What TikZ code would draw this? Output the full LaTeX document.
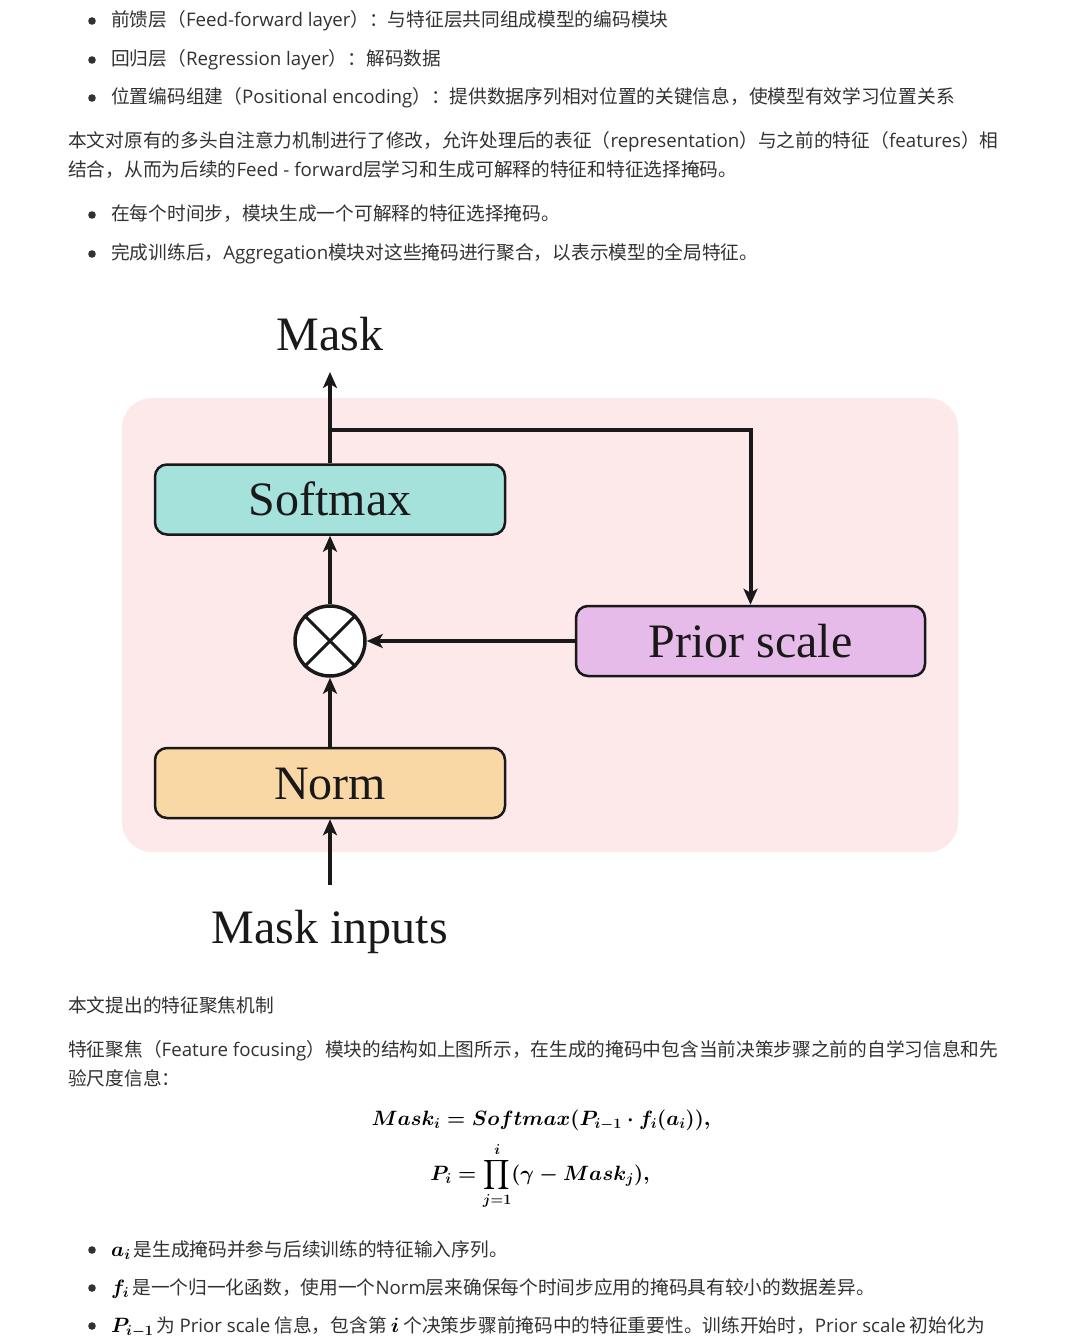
\documentclass[tikz,border=0pt]{standalone}
\usepackage{amsmath}
\usepackage[no-math]{fontspec}
\setmainfont{Noto Sans CJK SC}
\newfontfamily\lat{Open Sans}
\newfontfamily\serifd{Liberation Serif}
\usetikzlibrary{arrows.meta}
\definecolor{txtgray}{RGB}{50,50,50}
\definecolor{pinkbg}{RGB}{253,233,234}
\definecolor{tealbox}{RGB}{166,226,220}
\definecolor{lilacbox}{RGB}{230,187,233}
\definecolor{peachbox}{RGB}{250,216,166}
\definecolor{edge}{RGB}{25,25,25}
\newsavebox\eqAbox
\newsavebox\eqBbox
\newsavebox\mathAbox
\newsavebox\mathFbox
\newsavebox\mathPbox
\newsavebox\mathIbox
\tikzset{
  body/.style={anchor=base west, inner sep=0pt, text=txtgray, font=\fontsize{18.7}{22}\selectfont},
  dot/.style={fill=txtgray},
  blk/.style={draw=edge, line width=2.5pt, rounded corners=12pt, minimum width=350pt, minimum height=70pt,
    font=\serifd\fontsize{48}{50}\selectfont, text=edge, text height=32pt, text depth=0pt, inner sep=0pt},
  lbl/.style={anchor=base, inner sep=0pt, text=edge, font=\serifd\fontsize{48}{50}\selectfont},
  conn/.style={line width=4pt, draw=edge, -{Stealth[length=16pt,width=14pt,inset=4pt]}},
  eqn/.style={inner sep=0pt, text=edge}
}
\begin{document}
\sbox\eqAbox{\fontsize{20.2}{24}\selectfont\mathversion{bold}$Mask_i = Softmax(P_{i-1}\cdot f_i(a_i)),$}
\sbox\eqBbox{\fontsize{20.2}{24}\selectfont\mathversion{bold}$\displaystyle P_i = \prod_{j=1}^{i}(\gamma - Mask_j),$}
\sbox\mathAbox{\fontsize{22.5}{26}\selectfont\mathversion{bold}$a_i$}
\sbox\mathFbox{\fontsize{22.5}{26}\selectfont\mathversion{bold}$f_i$}
\sbox\mathPbox{\fontsize{22.5}{26}\selectfont\mathversion{bold}$P_{i-1}$}
\sbox\mathIbox{\fontsize{20}{24}\selectfont\mathversion{bold}$i$}
\begin{tikzpicture}[x=1pt,y=-1pt]
\useasboundingbox[fill=white] (0,0) rectangle (1080,1337);

% top bullets
\fill[dot] (92,21) circle (3.8);
\node[body] (t1) at (111,27) {前馈层（{\lat Feed-forward layer}）：与特征层共同组成模型的编码模块};
\fill[dot] (92,60) circle (3.8);
\node[body] (t2) at (111,66) {回归层（{\lat Regression layer}）：解码数据};
\fill[dot] (92,98) circle (3.8);
\node[body] (t3) at (111,104) {位置编码组建（{\lat Positional encoding}）：提供数据序列相对位置的关键信息，使模型有效学习位置关系};
\node[body] (p1) at (68,148) {本文对原有的多头自注意力机制进行了修改，允许处理后的表征（{\lat representation}）与之前的特征（{\lat features}）相};
\node[body] (p2) at (68,177) {结合，从而为后续的{\lat Feed - forward}层学习和生成可解释的特征和特征选择掩码。};
\fill[dot] (92,215) circle (3.8);
\node[body] (t4) at (111,221) {在每个时间步，模块生成一个可解释的特征选择掩码。};
\fill[dot] (92,254) circle (3.8);
\node[body] (t5) at (111,260) {完成训练后，{\lat Aggregation}模块对这些掩码进行聚合，以表示模型的全局特征。};

% diagram
\fill[pinkbg, rounded corners=30pt] (122,398) rectangle (958,852);
\node[blk, fill=tealbox] (soft) at (330,499.5) {Softmax};
\node[blk, fill=lilacbox, minimum width=349pt] (prior) at (750.5,641) {Prior scale};
\node[blk, fill=peachbox] (norm) at (330,783) {Norm};
\node[draw=edge, line width=3.5pt, circle, fill=white, minimum size=70pt, inner sep=0pt] (mul) at (330,641) {};
\draw[line width=3pt, edge] (mul.north west) -- (mul.south east);
\draw[line width=3pt, edge] (mul.north east) -- (mul.south west);
\node[lbl] (mask) at (330,350) {Mask};
\node[lbl] (inputs) at (330,943) {Mask inputs};
\coordinate (maskin) at (330,372);
\coordinate (inbot) at (330,885);
\coordinate (br) at (330,430);
\draw[conn] (inbot) -- (norm.south);
\draw[conn] (norm.north) -- (mul.south);
\draw[conn] (mul.north) -- (soft.south);
\draw[conn] (soft.north) -- (maskin);
\draw[conn] (br) -| (prior.north);
\draw[conn] (prior.west) -- (mul.east);

% lower text
\node[body] (s1) at (68,1012) {本文提出的特征聚焦机制};
\node[body] (q1) at (68,1056) {特征聚焦（{\lat Feature focusing}）模块的结构如上图所示，在生成的掩码中包含当前决策步骤之前的自学习信息和先};
\node[body] (q2) at (68,1085) {验尺度信息：};
\node[eqn] (fa) at (541,1120) {\usebox\eqAbox};
\node[eqn] (fb) at (540,1176) {\usebox\eqBbox};
\fill[dot] (92,1250) circle (3.8);
\node[body] (b1) at (111,1256) {\usebox\mathAbox\,是生成掩码并参与后续训练的特征输入序列。};
\fill[dot] (92,1288) circle (3.8);
\node[body] (b2) at (111,1294) {\usebox\mathFbox\,是一个归一化函数，使用一个{\lat Norm}层来确保每个时间步应用的掩码具有较小的数据差异。};
\fill[dot] (92,1326) circle (3.8);
\node[body] (b3) at (111,1332) {\usebox\mathPbox\,为 {\lat Prior scale} 信息，包含第 \usebox\mathIbox\ 个决策步骤前掩码中的特征重要性。训练开始时，{\lat Prior scale} 初始化为};
\end{tikzpicture}
\end{document}
